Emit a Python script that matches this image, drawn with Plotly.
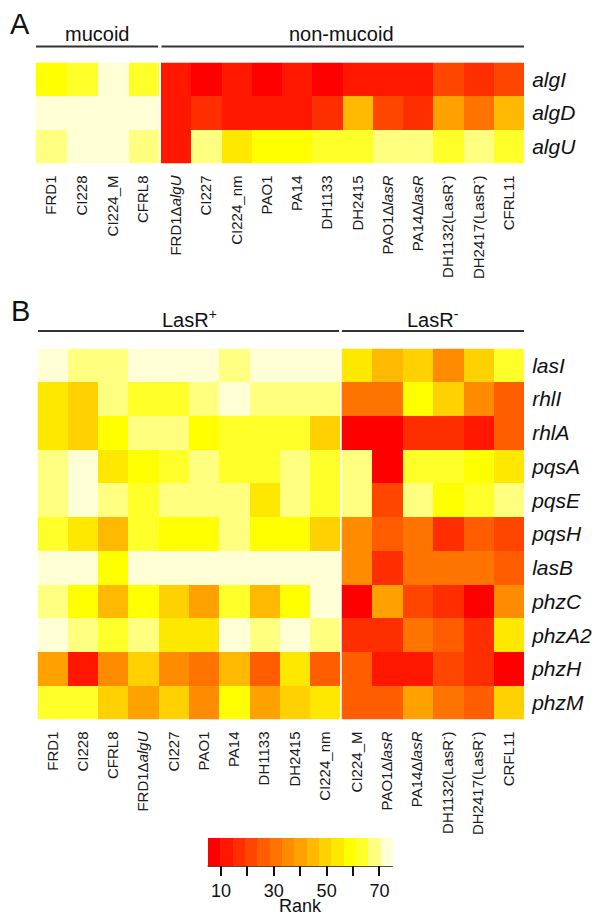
import plotly.graph_objects as go

W, H = 602, 915

# ---------------- data ----------------
genes_A = ["algI", "algD", "algU"]
strains_A_mucoid = ["FRD1", "CI228", "CI224_M", "CFRL8"]
strains_A_nonmucoid = ["FRD1Δ<i>algU</i>", "CI227", "CI224_nm", "PAO1", "PA14", "DH1133",
                       "DH2415", "PAO1Δ<i>lasR</i>", "PA14Δ<i>lasR</i>",
                       "DH1132(LasR<sup>-</sup>)", "DH2417(LasR<sup>-</sup>)", "CFRL11"]
rank_A_mucoid = [
    [59, 63, 73, 63],
    [73, 73, 73, 73],
    [68, 73, 73, 68],
]
rank_A_nonmucoid = [
    [12, 7, 12, 7, 12, 7, 12, 12, 12, 21, 17, 21],
    [12, 17, 12, 12, 12, 17, 45, 21, 17, 40, 31, 45],
    [12, 68, 54, 59, 59, 63, 63, 68, 68, 63, 68, 63],
]

genes_B = ["lasI", "rhlI", "rhlA", "pqsA", "pqsE", "pqsH", "lasB", "phzC", "phzA2", "phzH", "phzM"]
strains_B_pos = ["FRD1", "CI228", "CFRL8", "FRD1Δ<i>algU</i>", "CI227", "PAO1", "PA14",
                 "DH1133", "DH2415", "CI224_nm"]
strains_B_neg = ["CI224_M", "PAO1Δ<i>lasR</i>", "PA14Δ<i>lasR</i>",
                 "DH1132(LasR<sup>-</sup>)", "DH2417(LasR<sup>-</sup>)", "CRFL11"]
rank_B_pos = [
    [73, 68, 68, 73, 73, 73, 68, 73, 73, 73],
    [54, 49, 68, 63, 63, 68, 73, 68, 68, 68],
    [54, 49, 59, 68, 68, 59, 63, 63, 63, 49],
    [68, 73, 54, 59, 63, 68, 63, 63, 68, 63],
    [68, 73, 68, 63, 68, 68, 68, 54, 68, 63],
    [63, 54, 45, 63, 59, 59, 68, 59, 59, 49],
    [73, 73, 59, 73, 73, 73, 73, 73, 73, 73],
    [68, 59, 45, 59, 49, 40, 63, 45, 59, 73],
    [73, 68, 63, 68, 54, 54, 73, 68, 73, 68],
    [40, 12, 35, 49, 35, 31, 45, 26, 54, 26],
    [63, 63, 49, 40, 49, 35, 59, 40, 49, 54],
]
rank_B_neg = [
    [54, 45, 49, 35, 49, 63],
    [31, 31, 59, 49, 35, 26],
    [7, 7, 17, 17, 12, 26],
    [68, 7, 63, 63, 59, 54],
    [68, 21, 68, 59, 63, 68],
    [35, 26, 31, 17, 26, 21],
    [35, 17, 31, 31, 31, 26],
    [7, 40, 21, 17, 7, 35],
    [17, 17, 31, 26, 17, 54],
    [26, 12, 12, 21, 17, 7],
    [26, 26, 40, 31, 26, 49],
]

rank_min, rank_max = 5, 75
heat_colors = ["#FF0000", "#FF1700", "#FF2E00", "#FF4600", "#FF5D00", "#FF7400", "#FF8B00",
               "#FFA200", "#FFB900", "#FFD100", "#FFE800", "#FFFF00", "#FFFF2A", "#FFFF80",
               "#FFFFD5"]
cb_tick0, cb_dtick, cb_labelstep = 10, 10, 2
cb_title = "Rank"

# ---------------- helpers ----------------
def fx(px):
    return px / W

def fy(py):
    return 1 - py / H

n = len(heat_colors)
colorscale = []
for i, c in enumerate(heat_colors):
    colorscale.append([i / n, c])
    colorscale.append([(i + 1) / n, c])

FONT = "Liberation Sans, Arial, Helvetica, sans-serif"

fig = go.Figure()

def add_hm(z, xcats, ycats, xa, ya):
    fig.add_trace(go.Heatmap(z=z, x=xcats, y=ycats, xaxis=xa, yaxis=ya,
                             coloraxis="coloraxis", xgap=0, ygap=0,
                             hovertemplate="%{x}<br>%{y}: %{z}<extra></extra>"))

add_hm(rank_A_mucoid, strains_A_mucoid, genes_A, "x", "y")
add_hm(rank_A_nonmucoid, strains_A_nonmucoid, genes_A, "x2", "y")
add_hm(rank_B_pos, strains_B_pos, genes_B, "x3", "y2")
add_hm(rank_B_neg, strains_B_neg, genes_B, "x4", "y2")

xcommon = dict(tickangle=-90, tickfont=dict(size=15, color="#1a1a1a", family=FONT),
               showgrid=False, zeroline=False, showline=False, automargin=False,
               ticks="outside", ticklen=5, tickcolor="rgba(0,0,0,0)", fixedrange=True)
ycommon = dict(side="right", autorange="reversed", showgrid=False, zeroline=False,
               showline=False, ticks="outside", ticklen=3, tickcolor="rgba(0,0,0,0)",
               automargin=False,
               tickfont=dict(size=21, color="#111", family=FONT), fixedrange=True)

fig.update_layout(
    width=W, height=H,
    margin=dict(l=0, r=0, t=0, b=0, autoexpand=False),
    paper_bgcolor="white", plot_bgcolor="white",
    font=dict(family=FONT, color="#111"),
    xaxis=dict(domain=[fx(35.5), fx(159)], anchor="y", **xcommon),
    xaxis2=dict(domain=[fx(161), fx(524)], anchor="y", **xcommon),
    xaxis3=dict(domain=[fx(37.5), fx(340)], anchor="y2", **xcommon),
    xaxis4=dict(domain=[fx(341.5), fx(524)], anchor="y2", **xcommon),
    yaxis=dict(domain=[fy(163.5), fy(62.5)], anchor="x2",
               tickvals=genes_A, ticktext=["<i>%s</i>" % g for g in genes_A], **ycommon),
    yaxis2=dict(domain=[fy(719.5), fy(348.5)], anchor="x4",
                tickvals=genes_B, ticktext=["<i>%s</i>" % g for g in genes_B], **ycommon),
    coloraxis=dict(
        colorscale=colorscale, cmin=rank_min, cmax=rank_max,
        colorbar=dict(
            orientation="h", x=fx(300.2), xanchor="center", y=fy(838), yanchor="top",
            lenmode="pixels", len=185, thicknessmode="pixels", thickness=28,
            xpad=0, ypad=0, outlinewidth=0,
            tickmode="linear", tick0=cb_tick0, dtick=cb_dtick, ticklabelstep=cb_labelstep,
            ticks="outside", ticklen=10, tickwidth=1.5, tickcolor="#111",
            tickfont=dict(size=18, family=FONT, color="#111"),
        ),
    ),
)

# group header lines
line_style = dict(color="#333", width=2)
for x0, x1, y in [(36, 158, 46.5), (161.5, 524, 46.5), (38, 339, 331), (342, 524, 331)]:
    fig.add_shape(type="line", xref="paper", yref="paper", x0=fx(x0), x1=fx(x1),
                  y0=fy(y), y1=fy(y), line=line_style)
# colorbar baseline
fig.add_shape(type="line", xref="paper", yref="paper", x0=fx(207.7), x1=fx(392.7),
              y0=fy(866), y1=fy(866), line=dict(color="#111", width=1.5))

annos = [
    ("A", 20, 24, 29),
    ("B", 20, 311, 29),
    ("mucoid", 97, 34, 20),
    ("non-mucoid", 342, 34, 20),
    ("LasR<sup>+</sup>", 189, 318, 20),
    ("LasR<sup>-</sup>", 433, 318, 20),
    (cb_title, 300, 906, 18),
]
for t, x, y, s in annos:
    fig.add_annotation(text=t, xref="paper", yref="paper", x=fx(x), y=fy(y),
                       xanchor="center", yanchor="middle", showarrow=False,
                       font=dict(size=s, family=FONT, color="#111"))

fig.write_html("out.html", config={"displayModeBar": False},
               post_script="document.body.style.margin='0';document.body.style.overflow='hidden';")
